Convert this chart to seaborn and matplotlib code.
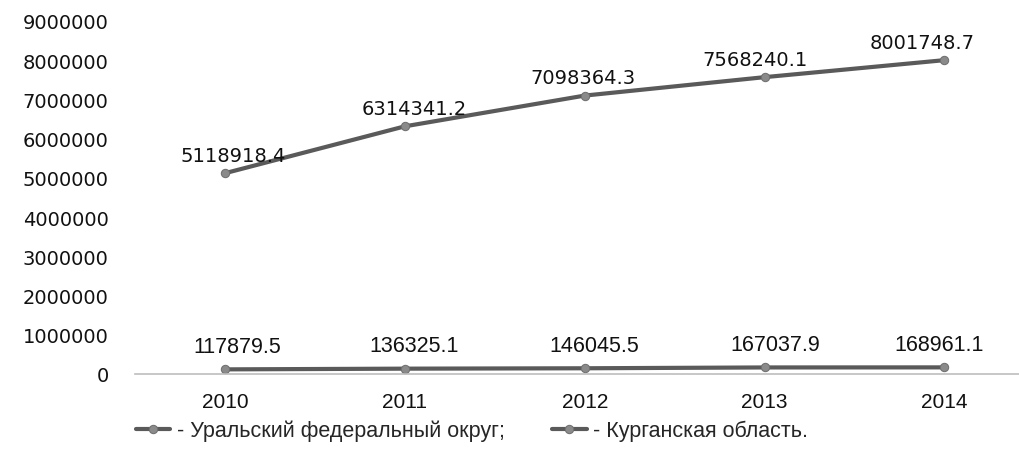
import numpy as np
import pandas as pd
import matplotlib.pyplot as plt
import seaborn as sns

# data
years = ["2010", "2011", "2012", "2013", "2014"]
ural = [5118918.4, 6314341.2, 7098364.3, 7568240.1, 8001748.7]
kurgan = [117879.5, 136325.1, 146045.5, 167037.9, 168961.1]
series_names = ["- Уральский федеральный округ;", "- Курганская область."]
y_ticks = [0, 1000000, 2000000, 3000000, 4000000, 5000000, 6000000, 7000000, 8000000, 9000000]

sns.set_style("white")
plt.rcParams['font.family'] = ['DejaVu Sans']
narrow = ['Liberation Sans Narrow', 'Liberation Sans', 'DejaVu Sans']

df = pd.DataFrame({
    "pos": list(range(len(years))) * 2,
    "value": ural + kurgan,
    "series": [series_names[0]] * len(years) + [series_names[1]] * len(years),
})

fig = plt.figure(figsize=(10.2, 4.56), dpi=100)
ax = fig.add_axes([135 / 1020, 1 - 375 / 456, 1 - 135 / 1020, (375 - 22) / 456])

line_col = "#5a5a5a"
sns.lineplot(data=df, x="pos", y="value", hue="series",
             palette=[line_col, line_col], marker="o", markersize=6,
             markerfacecolor="#8a8a8a", markeredgecolor="#707070",
             linewidth=3, ax=ax, legend=True)

ax.set_xlim(-0.5, 4.42)
ax.set_ylim(0, 9000000)
ax.set_yticks(y_ticks)
ax.set_yticklabels([str(v) for v in y_ticks], fontsize=14, color="#111111")
ax.set_xticks(range(len(years)))
ax.set_xticklabels(years, family=narrow, fontsize=15, color="#111111")
ax.tick_params(axis="x", length=0, pad=13)
ax.tick_params(axis="y", length=0, pad=19)
ax.set_xlabel("")
ax.set_ylabel("")

for s in ["top", "right", "left"]:
    ax.spines[s].set_visible(False)
ax.spines["bottom"].set_color("#bdbdbd")
ax.spines["bottom"].set_linewidth(1.2)

# label shifts (points) so the labels sit as in the reference
top_dx = [6, 7, -1, -7, -16]
for i, v in enumerate(ural):
    ax.annotate(f"{v:.1f}", (i, v), xytext=(top_dx[i], 6), textcoords="offset points",
                ha="center", va="bottom", fontsize=14, color="#111111")
bot_dx = [9, 7, 7, 8, -4]
for i, v in enumerate(kurgan):
    ax.annotate(f"{v:.1f}", (i, v), xytext=(bot_dx[i], 9), textcoords="offset points",
                ha="center", va="bottom", fontsize=15.5, family=narrow, color="#111111")

handles, labels = ax.get_legend_handles_labels()
ax.legend(handles, labels, loc="lower center", bbox_to_anchor=(472 / 1020, -0.012),
          bbox_transform=fig.transFigure, ncol=2, frameon=False,
          prop={"family": narrow, "size": 15.5}, handlelength=1.6,
          columnspacing=2.2, handletextpad=0.3)

fig.savefig("out.png", dpi=100)
